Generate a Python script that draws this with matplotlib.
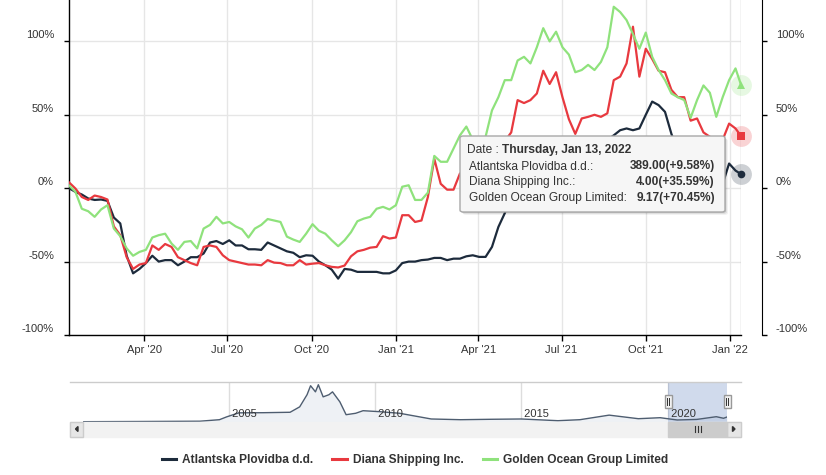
import numpy as np
import pandas as pd
import matplotlib
matplotlib.use("Agg")
import matplotlib.pyplot as plt
import matplotlib.dates as mdates
import matplotlib.transforms as mtransforms
from matplotlib.patches import Rectangle, FancyBboxPatch, Polygon
from matplotlib.lines import Line2D

plt.rcParams['font.family'] = ['Liberation Sans', 'DejaVu Sans']

# ---------------- data ----------------
series_names = ["Atlantska Plovidba d.d.", "Diana Shipping Inc.", "Golden Ocean Group Limited"]
dates = list(pd.date_range('2020-01-10', periods=105, freq='7D')) + [pd.Timestamp('2022-01-13')]

atlantska = [0, -2.5, -4.3, -7, -8, -7.7, -8.6, -20, -24, -46,
             -58, -55, -51, -46, -50, -49, -49, -52.5, -50, -47,
             -47, -44.5, -37, -36, -38, -35.5, -39, -39, -41.6, -41.6,
             -42, -37, -39, -41, -43, -44, -47, -45.7, -46, -50,
             -52.5, -55.5, -61.6, -55, -55.5, -57, -57, -57, -57, -58,
             -58, -56, -51, -50, -50, -49, -48.6, -47.5, -47.5, -49,
             -48, -48, -46.4, -45.7, -46.8, -46.8, -40, -26.4, -17, -5,
             3, 8, 12, 10, 16, 18, 14, 20, 22, 18,
             24, 27, 29, 31, 33, 36, 39.5, 40.7, 39.5, 40.7,
             50, 59, 56.6, 52, 37, 25, 20, 12, 8, 10,
             5, 2, 3, 16.8, 12, 9.58]

diana = [4, -0.2, -6, -8, -5, -6, -7.7, -26, -32, -47,
         -55, -52, -51, -39, -42, -38, -40, -47, -49, -51,
         -52.5, -40, -39, -40, -45.7, -49, -50, -51, -52, -52,
         -52.5, -49, -50.7, -51, -52.5, -52.5, -49, -52, -51.4, -51,
         -52.5, -53.6, -54, -52.7, -46.4, -43, -42, -40.5, -40, -32.7,
         -34.3, -33.6, -18.4, -18.4, -23, -22, -6, 20, 3, -1,
         -1, 10, 12, 15, 18, 20, 25, 28, 32, 38,
         60, 58, 60, 64.5, 80, 71, 79, 62, 47, 37,
         47.5, 48.6, 50, 48.6, 51, 73.6, 76, 85, 110, 76,
         95, 88, 80, 79, 67, 62, 62, 46, 47.5, 38,
         35, 33, 33, 44, 40.7, 35.59]

golden = [2, -2.5, -14, -15.7, -19.5, -14.5, -11.6, -27.5, -32.7, -41,
          -46, -43.4, -42, -33.6, -32, -31, -37.7, -42, -36.6, -36,
          -41, -27.5, -25, -19.5, -24, -23, -26, -28, -33.6, -27.5,
          -25, -21, -22, -23, -33, -35, -36.6, -31, -24.5, -29,
          -31, -35.5, -39.5, -35.5, -30, -22.5, -20.7, -19.5, -14, -12.7,
          -14.5, -11.6, 1, 2, -8, -8, -3, 22, 18, 18,
          27, 36, 42, 33, 30, 35, 53, 62, 73.6, 73.6,
          87, 89.5, 85, 96, 109, 100, 106.6, 96, 91, 79,
          80.5, 84, 80.5, 86, 96, 123.6, 120, 114.5, 105, 95,
          106, 89.5, 80.5, 73.6, 64.5, 62, 60, 48, 60, 70,
          65, 48.6, 62, 73.6, 81.6, 70.45]

last_prices = ["389.00", "4.00", "9.17"]

nav_dates = ['2000-01-01', '2002-01-01', '2004-01-01', '2004-09-01', '2004-12-01', '2005-05-01',
             '2006-03-01', '2007-02-01', '2007-06-01', '2007-09-01', '2007-10-15', '2007-12-15',
             '2008-01-20', '2008-03-20', '2008-06-01', '2008-07-15', '2008-10-15', '2009-01-01',
             '2009-05-01', '2009-08-01', '2010-03-01', '2010-11-01', '2011-12-01', '2012-12-01',
             '2014-01-01', '2015-01-01', '2016-04-01', '2017-01-01', '2018-01-01', '2019-01-01',
             '2019-10-01', '2020-05-01', '2021-01-01', '2021-09-01', '2021-12-01', '2022-01-13']
nav_price = [60, 75, 95, 200, 400, 680,
             690, 720, 1100, 1950, 2580, 2150,
             2650, 1800, 1950, 2150, 1450, 550,
             650, 830, 760, 650, 250, 200,
             230, 250, 130, 200, 520, 270,
             340, 180, 220, 410, 300, 389]

month_ticks = ['2020-04-01', '2020-07-01', '2020-10-01', '2021-01-01',
               '2021-04-01', '2021-07-01', '2021-10-01', '2022-01-01']
y_ticks = [-100, -50, 0, 50, 100]
nav_years = [2005, 2010, 2015, 2020]

# ---------------- style ----------------
colors = ['#1d2b3c', '#e8393f', '#8fe27c']
markers = ['o', 's', '^']
W, H = 826, 475
TXT = '#333333'

fig = plt.figure(figsize=(W / 100, H / 100), dpi=100)
fig.patch.set_facecolor('white')

ax = fig.add_axes([69 / W, 1 - 335 / H, (741 - 69) / W, 335 / H])
x0, x1 = pd.Timestamp('2020-01-10'), pd.Timestamp('2022-01-13')
ax.set_xlim(x0, x1)
ax.set_ylim(-100, 128.2)

ax.set_yticks(y_ticks)
ax.set_yticklabels([])
ax.set_xticks([pd.Timestamp(t) for t in month_ticks])
ax.xaxis.set_major_formatter(mdates.DateFormatter("%b '%y"))
ax.grid(True, color='#e6e6e6', lw=1, zorder=0)
ax.set_axisbelow(True)
for s in ['top', 'right']:
    ax.spines[s].set_visible(False)
for s in ['left', 'bottom']:
    ax.spines[s].set_color('#000000')
    ax.spines[s].set_linewidth(1)
ax.tick_params(axis='y', length=3.5, width=1, color='#000000', left=True)
ax.tick_params(axis='x', length=4, width=1, color='#000000', pad=3, labelsize=8, labelcolor=TXT)

ax2 = ax.twinx()
ax2.set_ylim(ax.get_ylim())
ax2.set_yticks(y_ticks)
ax2.set_yticklabels([])
for s in ['top', 'left', 'bottom']:
    ax2.spines[s].set_visible(False)
ax2.spines['right'].set_position(('axes', (762 - 69) / (741 - 69)))
ax2.spines['right'].set_color('#000000')
ax2.tick_params(axis='y', length=3.5, width=1, color='#000000')

# y labels (slightly above the gridlines, like Highcharts)
tl = mtransforms.blended_transform_factory(ax.transAxes, ax.transData)
for v in y_ticks:
    ax.text(0, v, f'{v}%', transform=tl + mtransforms.ScaledTranslation(-0.15, 0.06, fig.dpi_scale_trans),
            ha='right', va='center', fontsize=8, color=TXT)
    ax.text((776 - 69) / (741 - 69), v, f'{v}%',
            transform=tl + mtransforms.ScaledTranslation(0, 0.06, fig.dpi_scale_trans),
            ha='left', va='center', fontsize=8, color=TXT, clip_on=False)

all_series = [atlantska, diana, golden]
for vals, c in zip(all_series, colors):
    ax.plot(dates, vals, color=c, lw=1.6, solid_joinstyle='round', zorder=3)

# crosshair
ax.axvline(dates[-1], color='#c8c8c8', lw=1, zorder=2)

# end markers with halo
for vals, c, m in zip(all_series, colors, markers):
    ax.plot([dates[-1]], [vals[-1]], marker='o', ms=15, color=c, alpha=0.22, mew=0, clip_on=False, zorder=5)
    ax.plot([dates[-1]], [vals[-1]], marker=m, ms=5.5 if m != '^' else 6, color=c, mew=0, clip_on=False, zorder=6)

# ---------------- tooltip ----------------
def fpx(x, y):
    return (x / W, 1 - y / H)

tx0, ty0, tx1, ty1 = 460, 136, 725, 212
for off, a in [(3, 0.05), (2, 0.08), (1, 0.12)]:
    fig.patches.append(FancyBboxPatch(fpx(tx0 + off, ty1 + off), (tx1 - tx0) / W, (ty1 - ty0) / H,
                                      boxstyle='round,pad=0,rounding_size=0.004', transform=fig.transFigure,
                                      facecolor='black', edgecolor='none', alpha=a, zorder=20))
fig.patches.append(FancyBboxPatch(fpx(tx0, ty1), (tx1 - tx0) / W, (ty1 - ty0) / H,
                                  boxstyle='round,pad=0,rounding_size=0.004', transform=fig.transFigure,
                                  facecolor='#f6f6f6', edgecolor='#a8a8a8', lw=1, zorder=21))
fs_tt = 8.6
t_date = fig.text(*fpx(467, 150), 'Date : ', fontsize=fs_tt, color=TXT, ha='left', va='center', zorder=22)
fig.canvas.draw()
bb = t_date.get_window_extent(fig.canvas.get_renderer())
fig.text(bb.x1 / W, 1 - 150 / H, 'Thursday, Jan 13, 2022', fontsize=fs_tt, color=TXT, ha='left',
         va='center', fontweight='bold', zorder=22)
pct = [f'(+{v[-1]:.2f}%)' for v in all_series]
for i, name in enumerate(series_names):
    yy = 166.5 + 16 * i
    fig.text(*fpx(469, yy), name + ':', fontsize=fs_tt, color=TXT, ha='left', va='center', zorder=22)
    fig.text(*fpx(715, yy), last_prices[i] + pct[i], fontsize=fs_tt, color=TXT, ha='right', va='center',
             fontweight='bold', zorder=22)

# ---------------- navigator ----------------
nav = fig.add_axes([83 / W, 1 - 421.7 / H, (727 - 83) / W, (421.7 - 382) / H])
nav_d = pd.to_datetime(nav_dates)
nav.set_xlim(pd.Timestamp('2000-01-01'), pd.Timestamp('2022-01-13'))
nav.set_ylim(60, 2840)
nav.fill_between(nav_d, nav_price, 0, color='#eef1f5', lw=0, zorder=1)
nav.plot(nav_d, nav_price, color='#4e5d70', lw=1, zorder=3)
nav.axis('off')
nb = mtransforms.blended_transform_factory(nav.transData, nav.transAxes)
for yr in nav_years:
    d = pd.Timestamp(f'{yr}-01-01')
    nav.plot([d, d], [0, 1], transform=nb, color='#dddddd', lw=1, zorder=0)
    nav.text(d, 0.19, f' {yr}', transform=nb, ha='left', va='center', fontsize=8, color=TXT, zorder=4)
nav.axvspan(x0, x1, color=(102 / 255, 133 / 255, 194 / 255), alpha=0.3, lw=0, zorder=2)

# top outline
fig.add_artist(Line2D([70 / W, 741 / W], [1 - 382 / H, 1 - 382 / H], color='#cccccc', lw=1))

# scrollbar
sy0, sy1 = 421.7, 436.7
def frect(x, y, w, h, **kw):
    r = Rectangle((x / W, 1 - (y + h) / H), w / W, h / H, transform=fig.transFigure, **kw)
    fig.add_artist(r)
    return r

frect(70, sy0, 671, sy1 - sy0, facecolor='#f2f2f2', edgecolor='#f2f2f2', lw=1)
frect(70, sy0, 13, sy1 - sy0, facecolor='#e6e6e6', edgecolor='#cccccc', lw=1)
frect(727, sy0, 14, sy1 - sy0, facecolor='#e6e6e6', edgecolor='#cccccc', lw=1)
fig.add_artist(Polygon([fpx(78, 426.5), fpx(78, 431.5), fpx(75.5, 429)], closed=True,
                       transform=fig.transFigure, color='#333333'))
fig.add_artist(Polygon([fpx(732.5, 426.5), fpx(732.5, 431.5), fpx(735, 429)], closed=True,
                       transform=fig.transFigure, color='#333333'))
# thumb based on selection in navigator
fig.canvas.draw()
px0 = nav.transData.transform((mdates.date2num(x0), 0))[0]
px1 = nav.transData.transform((mdates.date2num(x1), 0))[0]
hx0, hx1 = px0, px1
frect(hx0, sy0, hx1 - hx0, sy1 - sy0, facecolor='#cccccc', edgecolor='#cccccc', lw=1)
cx = (hx0 + hx1) / 2
for dx in (-3, 0, 3):
    fig.add_artist(Line2D([(cx + dx) / W] * 2, [1 - 426 / H, 1 - 432 / H], color='#333333', lw=0.8))
# handles
for hx in (hx0, hx1):
    frect(hx - 3.5, 395, 7, 13, facecolor='#f2f2f2', edgecolor='#999999', lw=1)
    for dx in (-1, 1):
        fig.add_artist(Line2D([(hx + dx) / W] * 2, [1 - 398 / H, 1 - 405 / H], color='#333333', lw=0.7))

# ---------------- legend ----------------
handles = [Line2D([0], [0], color=c, lw=2.2) for c in colors]
fig.legend(handles, series_names, loc='center', bbox_to_anchor=(415 / W, 1 - 460 / H), ncol=3,
           frameon=False, fontsize=8.6, handlelength=1.2, handletextpad=0.5, columnspacing=1.6,
           labelcolor=TXT, prop={'weight': 'bold', 'size': 8.6})

fig.savefig('out.png', dpi=100, facecolor='white')
